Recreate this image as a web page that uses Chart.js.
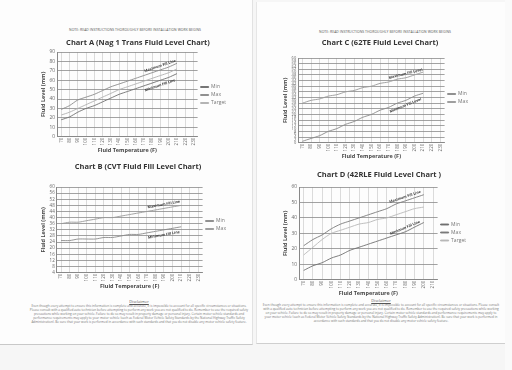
<!DOCTYPE html>
<html>
<head>
<meta charset="utf-8">
<script src="https://cdn.jsdelivr.net/npm/chart.js@4.4.1/dist/chart.umd.min.js"></script>
<style>
  body { margin:0; width:512px; height:370px; background:#f6f6f6; position:relative; overflow:hidden; font-family:"Open Sans", sans-serif; }
  .page { position:absolute; background:#fdfdfd; }
  .box { position:absolute; }
  .note { position:absolute; font-size:3.4px; color:#555; text-align:center; letter-spacing:0.05px; white-space:nowrap; }
  .disc { position:absolute; font-size:3.1px; line-height:3.9px; color:#777; text-align:center; }
  .disc b { display:block; font-weight:normal; text-decoration:underline; font-size:4px; color:#555; margin-bottom:1px; }
</style>
</head>
<body>
<div class="page" style="left:0;top:0;width:252px;height:344px;border-bottom:1px solid #c8c8c8;border-right:1px solid #e2e2e2"></div>
<div class="page" style="left:256px;top:2px;width:248px;height:341px;border-bottom:1px solid #cfcfcf;border-left:1px solid #e6e6e6"></div>
<div style="position:absolute;left:505px;top:0;width:7px;height:370px;background:#fafafa"></div>

<div class="note" style="left:40px;top:27px;width:190px">NOTE: READ INSTRUCTIONS THOROUGHLY BEFORE INSTALLATION WORK BEGINS</div>
<div class="note" style="left:290px;top:29px;width:190px">NOTE: READ INSTRUCTIONS THOROUGHLY BEFORE INSTALLATION WORK BEGINS</div>

<div class="box" style="left:38px;top:36px;width:202px;height:118px"><canvas id="chartA"></canvas></div>
<div class="box" style="left:38px;top:160px;width:202px;height:130px"><canvas id="chartB"></canvas></div>
<div class="box" style="left:280px;top:36px;width:202px;height:124px"><canvas id="chartC"></canvas></div>
<div class="box" style="left:280px;top:168px;width:200px;height:129px"><canvas id="chartD"></canvas></div>

<div class="disc" style="left:28px;top:300px;width:222px"><b>Disclaimer</b>Even though every attempt to ensure this information is complete and accurate, it is impossible to account for all specific circumstances or situations. Please consult with a qualified auto technician before attempting to perform any work you are not qualified to do. Remember to use the required safety precautions while working on your vehicle. Failure to do so may result in property damage or personal injury. Certain motor vehicle standards and performance requirements may apply to your motor vehicle (such as Federal Motor Vehicle Safety Standards by the National Highway Traffic Safety Administration). Be sure that your work is performed in accordance with such standards and that you do not disable any motor vehicle safety feature.</div>
<div class="disc" style="left:262px;top:299px;width:238px"><b>Disclaimer</b>Even though every attempt to ensure this information is complete and accurate, it is impossible to account for all specific circumstances or situations. Please consult with a qualified auto technician before attempting to perform any work you are not qualified to do. Remember to use the required safety precautions while working on your vehicle. Failure to do so may result in property damage or personal injury. Certain motor vehicle standards and performance requirements may apply to your motor vehicle (such as Federal Motor Vehicle Safety Standards by the National Highway Traffic Safety Administration). Be sure that your work is performed in accordance with such standards and that you do not disable any motor vehicle safety feature.</div>

<script>
// Data Area
const tempsLong = ['70','80','90','100','110','120','130','140','150','160','170','180','190','200','210','220','230'];
const tempsShort = ['70','80','90','100','110','120','130','140','150','160','170','180','190','200','210'];

// Chart A (Nag 1)
const aMin = [18, 21, 26, 30, 33, 37, 41, 45, 48, 51, 54, 57, 60, 63, 67];
const aMax = [29, 33, 39, 42, 45, 49, 53, 56, 59, 62, 65, 68, 71, 74, 78];
const aTarget = [23, 26, 30, 34, 38, 42, 46, 50, 53, 56, 59, 62, 65, 68, 72];

// Chart B (CVT)
const bMin = [25, 25, 26, 26, 26, 27, 27, 28, 29, 29, 30, 31, 32, 33, 34];
const bMax = [36, 37, 37, 38, 39, 40, 40, 41, 42, 43, 44, 45, 46, 47, 48];

// Chart C (62TE)
const cMin = [1, 3, 5, 8, 10, 13, 15, 18, 20, 23, 25, 28, 30, 33, 35];
const cMax = [28, 30, 31, 33, 34, 36, 37, 39, 40, 42, 43, 45, 46, 48, 50];

// Chart D (42RLE)
const dMin = [6, 9, 11, 14, 16, 19, 21, 23, 25, 27, 29, 31, 34, 37];
const dMax = [22, 26, 29, 33, 36, 38, 40, 42, 44, 46, 49, 51, 53, 55];
const dTarget = [16, 21, 26, 30, 32, 34, 36, 37, 39, 40, 42, 44, 46, 47];

Chart.defaults.font.family = "'Open Sans', 'Liberation Sans', sans-serif";
Chart.defaults.color = '#666';

// little rotated captions that sit on the curves
const curveLabels = {
  id: 'curveLabels',
  afterDatasetsDraw(chart, args, opts) {
    const ctx = chart.ctx;
    (opts.items || []).forEach(function(it){
      const pts = chart.getDatasetMeta(it.ds).data;
      const a = pts[it.idx - 1], b = pts[it.idx + 1], p = pts[it.idx];
      const ang = Math.atan2(b.y - a.y, b.x - a.x);
      ctx.save();
      ctx.translate(p.x, p.y + it.dy);
      ctx.rotate(ang);
      ctx.font = 'bold 3.6px "Open Sans"';
      ctx.fillStyle = '#333';
      ctx.textAlign = 'center';
      ctx.fillText(it.text, 0, 0);
      ctx.restore();
    });
  }
};

function line(label, data, color) {
  return { label: label, data: data, borderColor: color, backgroundColor: color,
           borderWidth: 0.9, pointRadius: 0, tension: 0.25, fill: false };
}

function makeChart(id, title, labels, datasets, yTicks, items) {
  return new Chart(document.getElementById(id), {
    type: 'line',
    data: { labels: labels, datasets: datasets },
    plugins: [curveLabels],
    options: {
      responsive: true,
      maintainAspectRatio: false,
      devicePixelRatio: 1,
      animation: false,
      layout: { padding: { left: 2, right: 4, top: 0, bottom: 0 } },
      plugins: {
        title: { display: true, text: title, color: '#333',
                 font: { size: 7.5, weight: 'bold' }, padding: { top: 2, bottom: yTicks.titlePad } },
        legend: { position: 'right',
                  labels: { boxWidth: 8, boxHeight: 1, font: { size: 5 }, color: '#777', padding: 3 } },
        tooltip: { enabled: false },
        curveLabels: { items: items }
      },
      scales: {
        x: {
          offset: true,
          ticks: { minRotation: 90, maxRotation: 90, autoSkip: false, font: { size: 4.5 }, padding: 1 },
          grid: { color: '#c4c4c4', lineWidth: 0.6, drawTicks: false },
          border: { color: '#888' },
          title: { display: true, text: 'Fluid Temperature (F)', color: '#444',
                   font: { size: 5.5, weight: 'bold' }, padding: { top: 1, bottom: 0 } }
        },
        y: {
          min: yTicks.min, max: yTicks.max,
          ticks: { stepSize: yTicks.step, autoSkip: false, font: { size: yTicks.font }, padding: 2 },
          grid: { color: yTicks.gridColor || '#8a8a8a', lineWidth: 0.8, drawTicks: false },
          border: { color: '#888' },
          title: { display: true, text: 'Fluid Level (mm)', color: '#444',
                   font: { size: 5.5, weight: 'bold' }, padding: { top: 0, bottom: 1 } }
        }
      }
    }
  });
}

// Start Chart A
makeChart('chartA', 'Chart A (Nag 1 Trans Fluid Level Chart)', tempsLong,
  [line('Min', aMin, '#6f6f6f'), line('Max', aMax, '#8a8a8a'), line('Target', aTarget, '#b0b0b0')],
  { min: 0, max: 90, step: 10, font: 4.8, titlePad: 5 },
  [{ ds: 1, idx: 12, dy: -3, text: 'Maximum Fill Line' }, { ds: 0, idx: 12, dy: 6, text: 'Minimum Fill Line' }]);
// End Chart A

// Start Chart B
makeChart('chartB', 'Chart B (CVT Fluid Fill Level Chart)', tempsLong,
  [line('Min', bMin, '#8a8a8a'), line('Max', bMax, '#9a9a9a')],
  { min: 4, max: 60, step: 4, font: 4.5, titlePad: 16 },
  [{ ds: 1, idx: 12, dy: -3, text: 'Maximum Fill Line' }, { ds: 0, idx: 12, dy: 6, text: 'Minimum Fill Line' }]);
// End Chart B

// Start Chart C
makeChart('chartC', 'Chart C (62TE Fluid Level Chart)', tempsLong,
  [line('Min', cMin, '#8a8a8a'), line('Max', cMax, '#9a9a9a')],
  { min: 0, max: 60, step: 2, font: 4, titlePad: 11,
    gridColor: function(c){ return c.tick && c.tick.value % 4 === 0 ? '#8a8a8a' : 'rgba(0,0,0,0)'; } },
  [{ ds: 1, idx: 12, dy: -3, text: 'Maximum Fill Level' }, { ds: 0, idx: 12, dy: 6, text: 'Minimum Fill Level' }]);
// End Chart C

// Start Chart D
makeChart('chartD', 'Chart D (42RLE Fluid Level Chart )', tempsShort,
  [line('Min', dMin, '#6f6f6f'), line('Max', dMax, '#7a7a7a'), line('Target', dTarget, '#b8b8b8')],
  { min: 0, max: 60, step: 10, font: 4.8, titlePad: 8 },
  [{ ds: 1, idx: 11, dy: -3, text: 'Maximum Fill Line' }, { ds: 0, idx: 11, dy: -3, text: 'Minimum Fill Line' }]);
// End Chart D
</script>
</body>
</html>
